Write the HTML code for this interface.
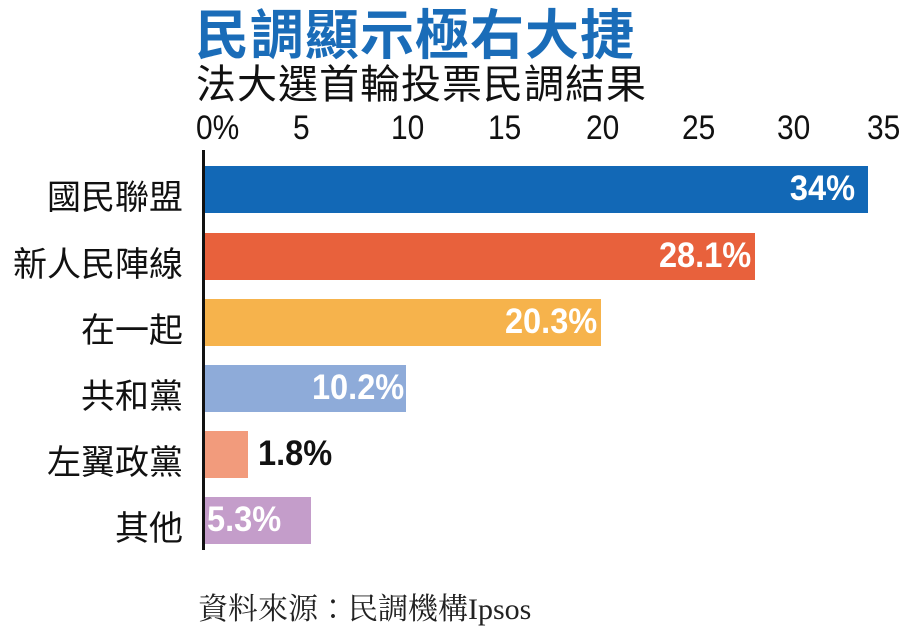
<!DOCTYPE html>
<html><head><meta charset="utf-8"><style>
body{margin:0;width:907px;height:624px;background:#fff;position:relative;overflow:hidden;font-family:"Liberation Sans","Noto Sans CJK TC",sans-serif}
.a{position:absolute;white-space:nowrap}
.t{left:195px;top:-9px;font-size:54px;font-weight:bold;color:#1a6cb8;letter-spacing:1px}
.s{left:196px;top:52px;font-size:40px;color:#111;letter-spacing:1px}
.tk{top:109px;font-size:34px;color:#111;transform:scaleX(0.88);transform-origin:left}
.bar{position:absolute;left:205px;height:47px}
.lb{right:724px;font-size:34px;color:#111}
.v{font-size:35px;font-weight:bold;color:#fff;transform:scaleX(0.93);transform-origin:right}
</style></head><body>
<div class="a t">民調顯示極右大捷</div>
<div class="a s">法大選首輪投票民調結果</div>
<div class="a tk" style="left:196px">0%</div>
<div class="a tk" style="left:293px">5</div>
<div class="a tk" style="left:391px">10</div>
<div class="a tk" style="left:488px">15</div>
<div class="a tk" style="left:586px">20</div>
<div class="a tk" style="left:682px">25</div>
<div class="a tk" style="left:777px">30</div>
<div class="a tk" style="left:867px">35</div>
<div class="bar" style="top:166px;width:663px;background:#1268b6"></div>
<div class="bar" style="top:233px;width:550px;background:#e8613c"></div>
<div class="bar" style="top:299px;width:396px;background:#f6b34c"></div>
<div class="bar" style="top:365px;width:201px;background:#8eabd9"></div>
<div class="bar" style="top:431px;width:43px;background:#f29b7c"></div>
<div class="bar" style="top:497px;width:106px;background:#c49dca"></div>
<div class="a" style="left:202px;top:150px;width:3px;height:400px;background:#111"></div>
<div class="a lb" style="top:170px">國民聯盟</div>
<div class="a lb" style="top:237px">新人民陣線</div>
<div class="a lb" style="top:303px">在一起</div>
<div class="a lb" style="top:369px">共和黨</div>
<div class="a lb" style="top:435px">左翼政黨</div>
<div class="a lb" style="top:501px">其他</div>
<div class="a v" style="right:52px;top:169px">34%</div>
<div class="a v" style="right:156px;top:236px">28.1%</div>
<div class="a v" style="right:310px;top:302px">20.3%</div>
<div class="a v" style="right:503px;top:368px">10.2%</div>
<div class="a v" style="left:258px;top:434px;color:#111;transform-origin:left">1.8%</div>
<div class="a v" style="left:207px;top:500px;transform-origin:left">5.3%</div>
<div class="a" style="left:198px;top:584px;font-size:30px;color:#222;font-family:'Liberation Serif','Noto Serif CJK TC','Noto Serif CJK SC',serif">資料來源：民調機構Ipsos</div>
</body></html>
